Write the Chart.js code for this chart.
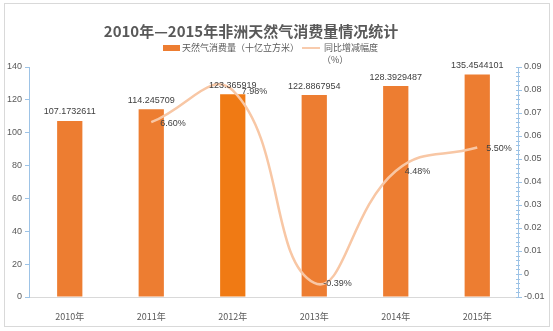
<!DOCTYPE html>
<html>
<head>
<meta charset="utf-8">
<script src="https://cdn.jsdelivr.net/npm/chart.js@4/dist/chart.umd.min.js"></script>
<style>
html,body{margin:0;padding:0;background:#fff;}
#wrap{width:553px;height:331px;position:relative;}
</style>
</head>
<body>
<div id="wrap"><canvas id="c" width="553" height="331"></canvas></div>
<script>
const categories = ['2010年','2011年','2012年','2013年','2014年','2015年'];
const consumption = [107.1732611, 114.245709, 123.365919, 122.8867954, 128.3929487, 135.4544101];
const yoyChange = [null, 0.066, 0.0798, -0.0039, 0.0448, 0.055];
const barColors = ['#ED7D31','#ED7D31','#F07A14','#ED7D31','#ED7D31','#ED7D31'];
const titleText = '2010年—2015年非洲天然气消费量情况统计';
const seriesNames = ['天然气消费量（十亿立方米）', '同比增减幅度', '（%）'];

const FONT = "'Liberation Sans','Noto Sans CJK SC',sans-serif";
const CJK = "'Noto Sans CJK SC','Liberation Sans',sans-serif";

const decor = {
  id: 'decor',
  beforeDraw(chart) {
    const ctx = chart.ctx;
    ctx.save();
    ctx.fillStyle = '#fff';
    ctx.fillRect(0, 0, chart.width, chart.height);
    ctx.strokeStyle = '#D9D9D9';
    ctx.lineWidth = 1;
    ctx.strokeRect(4.5, 3.5, 545, 323);
    // title
    ctx.fillStyle = '#595959';
    ctx.font = "bold 15px " + CJK;
    ctx.textAlign = 'center';
    ctx.textBaseline = 'middle';
    ctx.fillText(titleText, 251, 31);
    // legend
    ctx.font = "9px " + CJK;
    ctx.textAlign = 'left';
    ctx.fillStyle = '#ED7D31';
    ctx.fillRect(163, 45, 17, 6);
    ctx.fillStyle = '#595959';
    ctx.fillText(seriesNames[0], 182, 48);
    ctx.strokeStyle = '#F8CBAD';
    ctx.lineWidth = 2;
    ctx.beginPath(); ctx.moveTo(302, 48); ctx.lineTo(320, 48); ctx.stroke();
    ctx.fillText(seriesNames[1], 324, 48);
    ctx.fillText(seriesNames[2], 322, 60);
    ctx.restore();
  },
  afterDraw(chart) {
    // minor ticks on right axis
    const s = chart.scales.y1;
    const ctx = chart.ctx;
    ctx.save();
    ctx.strokeStyle = '#9DC3E6';
    ctx.lineWidth = 1;
    for (let i = 0; i <= 50; i++) {
      const v = -0.01 + i * 0.002;
      const y = Math.round(s.getPixelForValue(v)) + 0.5;
      ctx.beginPath(); ctx.moveTo(s.left - 2, y); ctx.lineTo(s.left + 2, y); ctx.stroke();
    }
    ctx.restore();
  },
  afterDatasetsDraw(chart) {
    const ctx = chart.ctx;
    ctx.save();
    ctx.fillStyle = '#404040';
    ctx.font = "9px " + FONT;
    ctx.textBaseline = 'middle';
    const bm = chart.getDatasetMeta(0);
    ctx.textAlign = 'center';
    bm.data.forEach((el, i) => {
      ctx.fillText(String(consumption[i]), el.x, el.y - 9);
    });
    const lm = chart.getDatasetMeta(1);
    ctx.textAlign = 'left';
    lm.data.forEach((el, i) => {
      if (yoyChange[i] === null) return;
      ctx.fillText((yoyChange[i] * 100).toFixed(2) + '%', el.x + 9, el.y + 1);
    });
    ctx.restore();
  }
};

new Chart(document.getElementById('c'), {
  data: {
    labels: categories,
    datasets: [
      {
        type: 'bar',
        label: seriesNames[0],
        data: consumption,
        backgroundColor: barColors,
        yAxisID: 'y',
        barPercentage: 0.62,
        categoryPercentage: 0.5,
        order: 2
      },
      {
        type: 'line',
        label: seriesNames[1],
        data: yoyChange,
        borderColor: '#F8C7A5',
        borderWidth: 2.5,
        pointRadius: 0,
        tension: 0.45,
        yAxisID: 'y1',
        order: 1
      }
    ]
  },
  options: {
    responsive: false,
    animation: false,
    layout: { padding: { top: 67, left: 0, right: 0, bottom: 0 } },
    plugins: { legend: { display: false }, title: { display: false }, tooltip: { enabled: false } },
    scales: {
      x: {
        offset: true,
        grid: { display: false },
        border: { color: '#D9D9D9' },
        ticks: { color: '#595959', font: { size: 9, family: CJK }, padding: 6 },
        afterFit(s) { s.height = 34; }
      },
      y: {
        position: 'left',
        min: 0, max: 140,
        ticks: { stepSize: 20, color: '#595959', font: { size: 9, family: FONT }, padding: 3 },
        grid: { drawOnChartArea: false, tickLength: 4, color: '#9DC3E6' },
        border: { color: '#9DC3E6' },
        afterFit(s) { s.width = 29; }
      },
      y1: {
        position: 'right',
        min: -0.01, max: 0.09,
        ticks: { stepSize: 0.01, color: '#595959', font: { size: 9, family: FONT }, padding: 2,
          callback: v => String(Math.round(v * 100) / 100) },
        grid: { drawOnChartArea: false, tickLength: 4, color: '#9DC3E6' },
        border: { color: '#9DC3E6' },
        afterFit(s) { s.width = 35; }
      }
    }
  },
  plugins: [decor]
});
</script>
</body>
</html>
